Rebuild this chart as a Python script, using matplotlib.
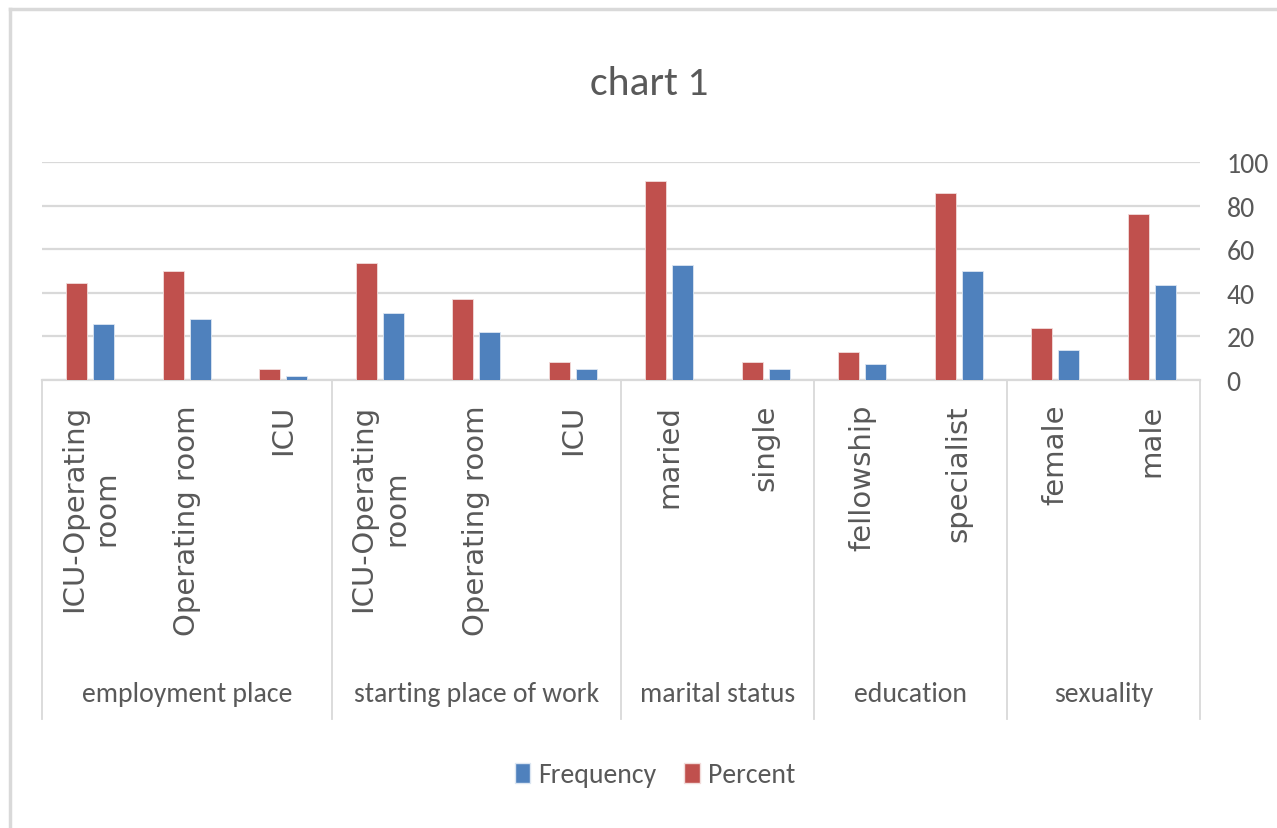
import matplotlib.pyplot as plt
from matplotlib.patches import Patch
from matplotlib.lines import Line2D
import matplotlib.transforms as mtransforms

# chart data
groups = ['employment place', 'starting place of work', 'marital status', 'education', 'sexuality']
group_sizes = [3, 3, 2, 2, 2]
sub_labels = ['ICU-Operating\nroom', 'Operating room', 'ICU',
              'ICU-Operating\nroom', 'Operating room', 'ICU',
              'maried', 'single',
              'fellowship', 'specialist',
              'female', 'male']
percent = [44.5, 50.0, 4.9, 53.5, 37.2, 8.4, 91.4, 8.4, 13.0, 86.0, 23.7, 76.1]
frequency = [25.6, 28.2, 1.9, 30.9, 21.9, 4.9, 52.7, 4.9, 7.5, 49.8, 13.9, 43.6]
yticks = [0, 20, 40, 60, 80, 100]

narrow = ['Carlito', 'Lato', 'DejaVu Sans']
grey_txt = '#595959'
grid_col = '#d9d9d9'
red = '#c0504d'
blue = '#4f81bd'

fig = plt.figure(figsize=(12.77, 8.29), dpi=100)
ax = fig.add_axes([42 / 1277, 448 / 829, 1158 / 1277, 218 / 829])

x = list(range(len(sub_labels)))
ax.bar([i - 0.14 for i in x], percent, width=0.22, color=red, edgecolor='#f2dcdb', linewidth=0.6, zorder=3)
ax.bar([i + 0.14 for i in x], frequency, width=0.22, color=blue, edgecolor='#dce6f2', linewidth=0.6, zorder=3)

ax.set_xlim(-0.5, len(sub_labels) - 0.5)
ax.set_ylim(0, 100)
ax.set_yticks(yticks)
ax.yaxis.tick_right()
ax.tick_params(axis='y', length=0, pad=19, labelsize=20, labelcolor=grey_txt)
for lab in ax.get_yticklabels():
    lab.set_family(narrow)
ax.set_xticks([])
ax.grid(axis='y', color=grid_col, linewidth=1.6, zorder=0)
for s in ['top', 'left', 'right']:
    ax.spines[s].set_visible(False)
ax.spines['bottom'].set_color(grid_col)
ax.spines['bottom'].set_linewidth(1.6)

# multi-level category axis
trans = mtransforms.blended_transform_factory(ax.transData, ax.transAxes)
for i, lab in enumerate(sub_labels):
    ax.text(i, -0.11, lab, transform=trans, rotation=90, ha='center', va='top',
            multialignment='center', fontsize=21, color=grey_txt,
            family='DejaVu Sans', linespacing=1.2, clip_on=False)

start = 0
edges = [-0.5]
for g, n in zip(groups, group_sizes):
    centre = start + (n - 1) / 2
    ax.text(centre, -1.44, g, transform=trans, ha='center', va='center',
            fontsize=20, color=grey_txt, family=narrow, clip_on=False)
    start += n
    edges.append(start - 0.5)
for e in edges:
    ax.add_line(Line2D([e, e], [0, -1.555], transform=trans, color=grid_col,
                       linewidth=1.3, clip_on=False))

fig.text(649 / 1277, 1 - 95 / 829, 'chart 1', ha='center', va='baseline',
         fontsize=30, color=grey_txt, family=narrow)

handles = [Patch(facecolor=blue, edgecolor='#dce6f2'), Patch(facecolor=red, edgecolor='#f2dcdb')]
leg = fig.legend(handles, ['Frequency', 'Percent'], loc='center', bbox_to_anchor=(655 / 1277, 1 - 776 / 829),
                 ncol=2, frameon=False, handlelength=0.55, handleheight=0.7,
                 handletextpad=0.3, columnspacing=1.0, prop={'family': narrow, 'size': 20})
for t in leg.get_texts():
    t.set_color(grey_txt)

# outer chart border (left and top visible)
fig.add_artist(Line2D([10 / 1277, 10 / 1277], [0, 1 - 10 / 829], transform=fig.transFigure, color=grid_col, linewidth=2.5))
fig.add_artist(Line2D([10 / 1277, 1], [1 - 10 / 829, 1 - 10 / 829], transform=fig.transFigure, color=grid_col, linewidth=2.5))

fig.savefig('out.png', dpi=100)
